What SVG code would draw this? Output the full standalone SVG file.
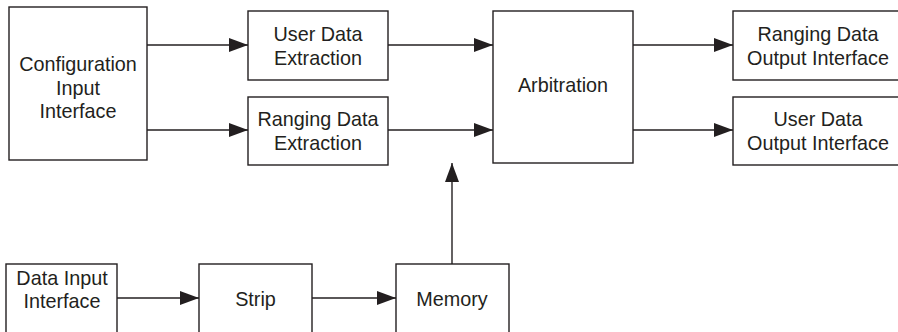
<svg xmlns="http://www.w3.org/2000/svg" width="898" height="332" viewBox="0 0 898 332">
<style>
.box{fill:#fff;stroke:#231f20;stroke-width:1.4}
.lbl{font-family:"Liberation Sans",Arial,sans-serif;font-size:19.8px;fill:#231f20;text-anchor:middle}
.conn{stroke:#231f20;stroke-width:1.4;fill:none;marker-end:url(#ah)}
</style>
<defs>
<marker id="ah" markerUnits="userSpaceOnUse" markerWidth="20" markerHeight="15" refX="19" refY="7" orient="auto">
<path d="M0,0 L19,7 L0,14 Z" fill="#231f20"/>
</marker>
</defs>
<rect width="898" height="332" fill="#fff"/>
<g id="connectors">
<line class="conn" x1="147" y1="45" x2="248" y2="45"/>
<line class="conn" x1="147" y1="130" x2="248" y2="130"/>
<line class="conn" x1="388" y1="45" x2="493" y2="45"/>
<line class="conn" x1="388" y1="130" x2="493" y2="130"/>
<line class="conn" x1="633" y1="45" x2="733" y2="45"/>
<line class="conn" x1="633" y1="130" x2="733" y2="130"/>
<line class="conn" x1="117" y1="298" x2="199" y2="298"/>
<line class="conn" x1="312" y1="298" x2="396" y2="298"/>
<line class="conn" x1="452" y1="264" x2="452" y2="163"/>
</g>
<g id="config">
<rect class="box" x="9" y="7" width="138" height="153"/>
<text class="lbl" x="78" y="71">Configuration</text>
<text class="lbl" x="78" y="95">Input</text>
<text class="lbl" x="78" y="118">Interface</text>
</g>
<g id="userExtract">
<rect class="box" x="248" y="11" width="140" height="69"/>
<text class="lbl" x="318" y="41">User Data</text>
<text class="lbl" x="318" y="65">Extraction</text>
</g>
<g id="rangingExtract">
<rect class="box" x="248" y="97" width="140" height="68"/>
<text class="lbl" x="318" y="126">Ranging Data</text>
<text class="lbl" x="318" y="150">Extraction</text>
</g>
<g id="arbitration">
<rect class="box" x="493" y="11" width="140" height="152"/>
<text class="lbl" x="563" y="92">Arbitration</text>
</g>
<g id="rangingOut">
<rect class="box" x="733" y="11" width="170" height="69"/>
<text class="lbl" x="818" y="41">Ranging Data</text>
<text class="lbl" x="818" y="65">Output Interface</text>
</g>
<g id="userOut">
<rect class="box" x="733" y="97" width="170" height="68"/>
<text class="lbl" x="818" y="126">User Data</text>
<text class="lbl" x="818" y="150">Output Interface</text>
</g>
<g id="dataInput">
<rect class="box" x="6" y="264" width="111" height="80"/>
<text class="lbl" x="62" y="285">Data Input</text>
<text class="lbl" x="62" y="308">Interface</text>
</g>
<g id="strip">
<rect class="box" x="199" y="264" width="113" height="80"/>
<text class="lbl" x="255.5" y="306">Strip</text>
</g>
<g id="memory">
<rect class="box" x="396" y="264" width="113" height="80"/>
<text class="lbl" x="452" y="306">Memory</text>
</g>
</svg>
